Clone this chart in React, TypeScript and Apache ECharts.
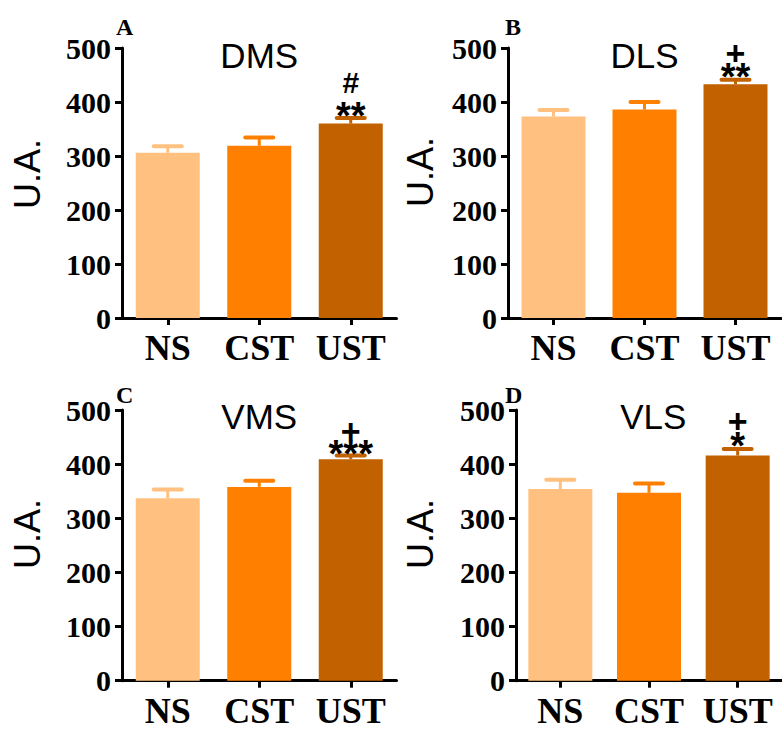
import React, { useEffect, useRef } from "react";
import * as echarts from "echarts";

const categories = ["NS", "CST", "UST"];
const barColors = ["#FFC080", "#FF8000", "#C16100"];

const panelTitles = ["DMS", "DLS", "VMS", "VLS"];
const panelLetters = ["A", "B", "C", "D"];
const yTicks = [0, 100, 200, 300, 400, 500];

const dmsMean = [306, 319, 360];
const dmsSem = [14, 17, 12];
const dlsMean = [373, 386, 433];
const dlsSem = [14, 16, 10];
const vmsMean = [337, 358, 409];
const vmsSem = [18, 13, 9];
const vlsMean = [354, 347, 416];
const vlsSem = [19, 19, 14];

// significance marks above UST (bottom line first)
const dmsMarks = ["**", "#"];
const dlsMarks = ["**", "+"];
const vmsMarks = ["***", "+"];
const vlsMarks = ["*", "+"];

const means = [dmsMean, dlsMean, vmsMean, vlsMean];
const sems = [dmsSem, dlsSem, vmsSem, vlsSem];
const marks = [dmsMarks, dlsMarks, vmsMarks, vlsMarks];

// layout
const grids = [
  { left: 122, top: 48, width: 274.5, height: 270 },
  { left: 508, top: 48, width: 273, height: 270 },
  { left: 122, top: 410, width: 274.5, height: 270.7 },
  { left: 516, top: 410, width: 274.5, height: 270.7 },
];
const letterPos = [
  [116, 27],
  [505, 27],
  [116, 395],
  [505, 395],
];
const yNamePos = [
  [27, 174],
  [420, 172],
  [27, 534],
  [420, 534],
];
const titleY = [55, 55, 416, 416];
// offsets of mark lines relative to error-bar top (glyph placement)
const markOffsets = [
  [-1, -35],
  [-2, -26],
  [0, -23],
  [-2, -27],
];
const markSizes = [
  [38, 30],
  [38, 34],
  [38, 34],
  [38, 34],
];

const SERIF = "'Liberation Serif', 'Times New Roman', serif";
const SANS = "'Liberation Sans', Arial, sans-serif";

export default function App() {
  const ref = useRef<HTMLDivElement>(null);
  useEffect(() => {
    if (!ref.current) return;
    const chart = echarts.init(ref.current, null, { renderer: "svg" });

    const xAxes: any[] = [];
    const yAxes: any[] = [];
    const series: any[] = [];
    const graphics: any[] = [];

    for (let p = 0; p < 4; p++) {
      xAxes.push({
        type: "category",
        gridIndex: p,
        data: categories,
        axisLine: { show: true, lineStyle: { color: "#000", width: 3 } },
        axisTick: {
          show: true,
          alignWithLabel: true,
          length: 7,
          lineStyle: { color: "#000", width: 3 },
        },
        axisLabel: {
          interval: 0,
          color: "#000",
          fontFamily: SERIF,
          fontWeight: "bold",
          fontSize: 36,
          lineHeight: 30,
          margin: 15,
        },
        splitLine: { show: false },
      });
      yAxes.push({
        type: "value",
        gridIndex: p,
        min: yTicks[0],
        max: yTicks[yTicks.length - 1],
        interval: 100,
        axisLine: { show: true, lineStyle: { color: "#000", width: 3 } },
        axisTick: { show: true, length: 7, lineStyle: { color: "#000", width: 3 } },
        axisLabel: {
          color: "#000",
          fontFamily: SERIF,
          fontWeight: "bold",
          fontSize: 30,
          margin: 11,
        },
        splitLine: { show: false },
      });
      series.push({
        type: "bar",
        xAxisIndex: p,
        yAxisIndex: p,
        barWidth: 64,
        data: means[p].map((v, i) => ({ value: v, itemStyle: { color: barColors[i] } })),
        z: 2,
      });
      const m = means[p];
      const s = sems[p];
      series.push({
        type: "custom",
        xAxisIndex: p,
        yAxisIndex: p,
        z: 3,
        data: m.map((v, i) => [i, v, v + s[i]]),
        renderItem: (params: any, api: any) => {
          const i = api.value(0);
          const base = api.coord([i, api.value(1)]);
          const top = api.coord([i, api.value(2)]);
          const c = barColors[i];
          return {
            type: "group",
            children: [
              {
                type: "line",
                shape: { x1: base[0], y1: base[1], x2: top[0], y2: top[1] },
                style: { stroke: c, lineWidth: 3 },
              },
              {
                type: "line",
                shape: { x1: top[0] - 14, y1: top[1] + 1, x2: top[0] + 14, y2: top[1] + 1 },
                style: { stroke: c, lineWidth: 4, lineCap: "round" },
              },
            ],
          };
        },
      });
      const mk = marks[p];
      const off = markOffsets[p];
      const sz = markSizes[p];
      series.push({
        type: "custom",
        xAxisIndex: p,
        yAxisIndex: p,
        z: 4,
        data: [[2, m[2] + s[2]]],
        renderItem: (params: any, api: any) => {
          const pt = api.coord([api.value(0), api.value(1)]);
          return {
            type: "group",
            children: mk.map((t, k) => ({
              type: "text",
              x: pt[0],
              y: pt[1] + off[k],
              style: {
                text: t,
                fill: "#000",
                font: `bold ${sz[k]}px ${SANS}`,
                textAlign: "center",
                textVerticalAlign: "middle",
              },
            })),
          };
        },
      });

      const g = grids[p];
      graphics.push({
        type: "text",
        x: g.left + g.width / 2,
        y: titleY[p],
        style: {
          text: panelTitles[p],
          fill: "#000",
          font: `35px ${SANS}`,
          textAlign: "center",
          textVerticalAlign: "middle",
        },
      });
      graphics.push({
        type: "text",
        x: letterPos[p][0],
        y: letterPos[p][1],
        style: {
          text: panelLetters[p],
          fill: "#000",
          font: `bold 24px ${SERIF}`,
          textAlign: "left",
          textVerticalAlign: "middle",
        },
      });
      graphics.push({
        type: "text",
        x: yNamePos[p][0],
        y: yNamePos[p][1],
        rotation: Math.PI / 2,
        style: {
          text: "U.A.",
          fill: "#000",
          font: `36px ${SANS}`,
          textAlign: "center",
          textVerticalAlign: "middle",
        },
      });
    }

    chart.setOption({
      animation: false,
      backgroundColor: "#fff",
      grid: grids.map((g) => ({ ...g, containLabel: false })),
      xAxis: xAxes,
      yAxis: yAxes,
      series,
      graphic: graphics,
    });
    return () => chart.dispose();
  }, []);
  return (
    <div
      ref={ref}
      style={{ position: "absolute", left: 0, top: 0, width: 782, height: 729 }}
    />
  );
}
